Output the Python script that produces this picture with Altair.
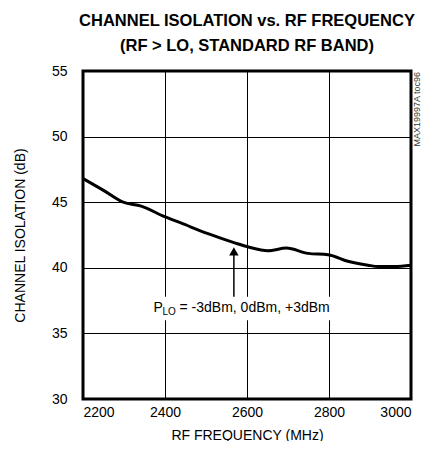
import altair as alt
import pandas as pd

freq = [2200, 2250, 2298, 2342, 2399, 2440, 2505, 2570, 2602, 2651, 2696, 2749, 2798, 2846, 2895, 2920, 2960, 3000]
iso = [46.8, 45.9, 45.0, 44.7, 43.9, 43.4, 42.6, 41.9, 41.6, 41.3, 41.5, 41.1, 41.0, 40.5, 40.2, 40.1, 40.1, 40.2]
x_ticks = [2200, 2400, 2600, 2800, 3000]
y_ticks = [30, 35, 40, 45, 50, 55]

FONT = "Liberation Sans, Arial, sans-serif"

df = pd.DataFrame({"f": freq, "v": iso})

xs = alt.Scale(domain=[2200, 3000], nice=False)
ys = alt.Scale(domain=[30, 55], nice=False)

base_x = alt.X("f:Q", scale=xs, title="RF FREQUENCY (MHz)",
               axis=alt.Axis(values=x_ticks, grid=True, ticks=False, domain=False,
                             labelPadding=6, titlePadding=9, format="d"))
base_y = alt.Y("v:Q", scale=ys, title="CHANNEL ISOLATION (dB)",
               axis=alt.Axis(values=y_ticks, grid=True, ticks=False, domain=False,
                             labelPadding=16, titlePadding=24))

line = alt.Chart(df).mark_line(color="black", strokeWidth=3, interpolate="monotone").encode(
    x=base_x, y=base_y)

box = alt.Chart(pd.DataFrame({"f": [2345], "f2": [2812], "v": [36.0], "v2": [37.8]})).mark_rect(
    color="white").encode(x=alt.X("f:Q", scale=xs), x2="f2", y=alt.Y("v:Q", scale=ys), y2="v2")

arrow = alt.Chart(pd.DataFrame({"f": [2568], "v": [37.8], "v2": [41.0]})).mark_rule(
    color="black", strokeWidth=1.5).encode(x=alt.X("f:Q", scale=xs), y=alt.Y("v:Q", scale=ys), y2="v2")
head = alt.Chart(pd.DataFrame({"f": [2568], "v": [41.25]})).mark_point(
    shape="triangle-up", filled=True, color="black", size=90, opacity=1).encode(
    x=alt.X("f:Q", scale=xs), y=alt.Y("v:Q", scale=ys))

lab = pd.DataFrame({"f": [2372], "v": [36.9]})
t1 = alt.Chart(lab).mark_text(text="P", align="left", baseline="middle", fontSize=14, font=FONT).encode(
    x=alt.X("f:Q", scale=xs), y=alt.Y("v:Q", scale=ys))
t2 = alt.Chart(lab).mark_text(text="LO", align="left", baseline="middle", fontSize=10, dx=9, dy=4, font=FONT).encode(
    x=alt.X("f:Q", scale=xs), y=alt.Y("v:Q", scale=ys))
t3 = alt.Chart(lab).mark_text(text="= -3dBm, 0dBm, +3dBm", align="left", baseline="middle", fontSize=14, dx=26, font=FONT).encode(
    x=alt.X("f:Q", scale=xs), y=alt.Y("v:Q", scale=ys))

tag = alt.Chart(pd.DataFrame({"f": [3000], "v": [55]})).mark_text(
    text="MAX19997A toc96", angle=270, align="right", baseline="middle", fontSize=9, dx=-1, dy=6, font=FONT,
    color="#333").encode(x=alt.X("f:Q", scale=xs), y=alt.Y("v:Q", scale=ys))

chart = alt.layer(line, box, arrow, head, t1, t2, t3, tag).properties(
    width=328, height=328,
    title=alt.TitleParams(["CHANNEL ISOLATION vs. RF FREQUENCY", "(RF > LO, STANDARD RF BAND)"],
                          fontSize=16.5, font=FONT, fontWeight="bold", anchor="middle",
                          lineHeight=25, offset=10, color="black"),
    autosize=alt.AutoSizeParams(type="none"),
    padding={"left": 75, "top": 63, "right": 11, "bottom": 42},
).configure_view(stroke="black", strokeWidth=3).configure_axis(
    gridColor="black", gridOpacity=1, gridWidth=1,
    labelFont=FONT, labelFontSize=14, labelColor="black",
    titleFont=FONT, titleFontSize=14, titleFontWeight="normal", titleColor="black",
)

chart.save("out.html", embed_options={"renderer": "svg", "actions": False})
